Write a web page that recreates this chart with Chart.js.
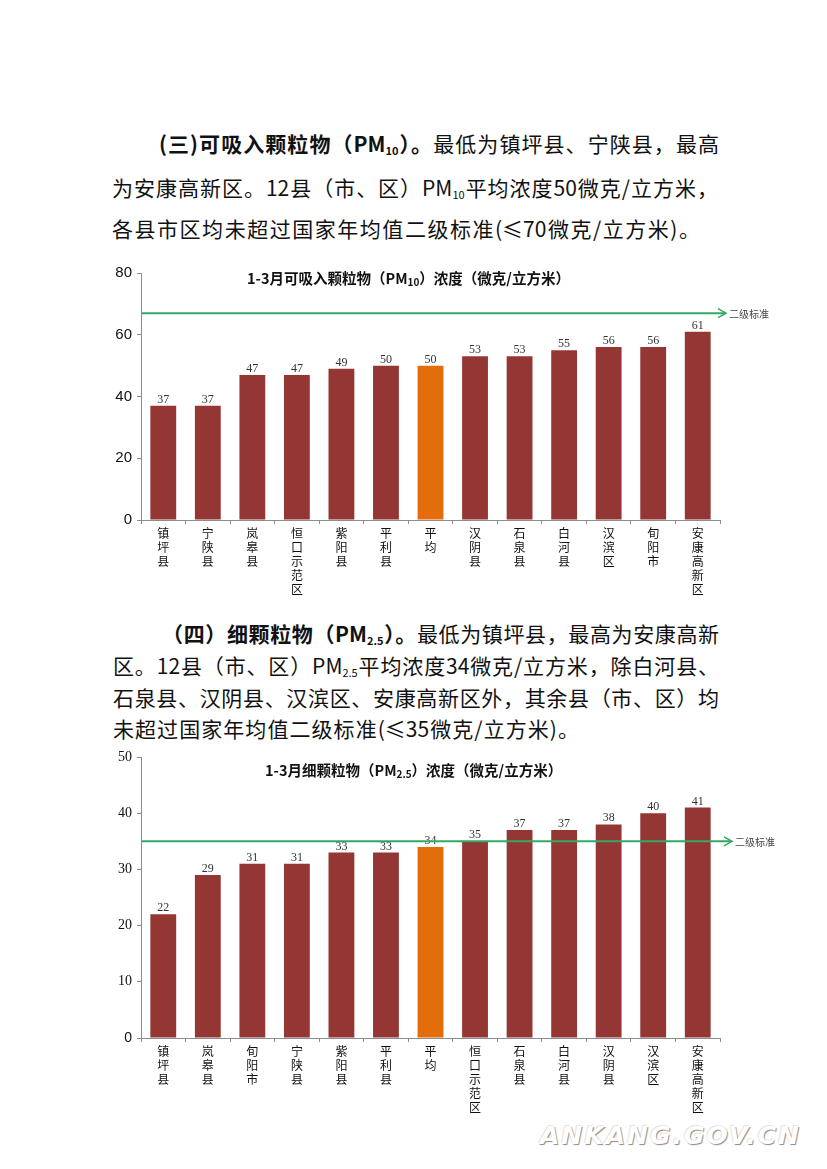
<!DOCTYPE html>
<html>
<head>
<meta charset="utf-8">
<script src="https://cdn.jsdelivr.net/npm/chart.js@4.4.1/dist/chart.umd.min.js"></script>
<style>
body { margin: 0; background: #fff; width: 827px; height: 1169px; position: relative; overflow: hidden; font-family: "Noto Sans CJK SC", sans-serif; color: #111; }
.ln { position: absolute; height: 42px; line-height: 42px; font-size: 21px; text-align: justify; text-align-last: justify; }
.ln b { font-weight: 700; }
sub { font-size: 11px; vertical-align: -3px; line-height: 0; }
.box { position: absolute; }
.wm { position: absolute; left: 540px; top: 1121px; font: italic bold 25px "DejaVu Sans", sans-serif; letter-spacing: 2px; color: #fff; text-shadow: 1px 1px 1px #8a8a8a, -1px -1px 0 #e6e6e6; }
</style>
</head>
<body>

<div class="ln" style="left:159px; top:122px; width:560px;"><b>(三)可吸入颗粒物（PM<sub>10</sub>）。</b>最低为镇坪县、宁陕县，最高</div>
<div class="ln" style="left:112px; top:166px; width:606px;">为安康高新区。12县（市、区）PM<sub>10</sub>平均浓度50微克/立方米，</div>
<div class="ln" style="left:112px; top:207px; width:588px;">各县市区均未超过国家年均值二级标准(≤70微克/立方米)。</div>

<div class="box" style="left:90px; top:258px;"><canvas id="chart1" width="700" height="344"></canvas></div>

<div class="ln" style="left:162px; top:612px; width:557px;"><b>（四）细颗粒物（PM<sub>2.5</sub>）。</b>最低为镇坪县，最高为安康高新</div>
<div class="ln" style="left:113px; top:644px; width:606px;">区。12县（市、区）PM<sub>2.5</sub>平均浓度34微克/立方米，除白河县、</div>
<div class="ln" style="left:113px; top:676px; width:606px;">石泉县、汉阴县、汉滨区、安康高新区外，其余县（市、区）均</div>
<div class="ln" style="left:113px; top:707px; width:466px;">未超过国家年均值二级标准(≤35微克/立方米)。</div>

<div class="box" style="left:90px; top:742px;"><canvas id="chart2" width="700" height="378"></canvas></div>

<div class="wm">ANKANG.GOV.CN</div>

<script>
// PM10, Jan-Mar, ascending
const cats1 = ['镇坪县', '宁陕县', '岚皋县', '恒口示范区', '紫阳县', '平利县', '平均', '汉阴县', '石泉县', '白河县', '汉滨区', '旬阳市', '安康高新区'];
const pm10 = [37, 37, 47, 47, 49, 50, 50, 53, 53, 55, 56, 56, 61];
const yTicks1 = [0, 20, 40, 60, 80];
const std1 = 67;

// PM2.5, Jan-Mar, ascending
const cats2 = ['镇坪县', '岚皋县', '旬阳市', '宁陕县', '紫阳县', '平利县', '平均', '恒口示范区', '石泉县', '白河县', '汉阴县', '汉滨区', '安康高新区'];
const pm25 = [22, 29, 31, 31, 33, 33, 34, 35, 37, 37, 38, 40, 41];
const yTicks2 = [0, 10, 20, 30, 40, 50];
const std2 = 35;

const stdLabel = '二级标准';
const title1 = [['1-3月可吸入颗粒物（PM', false], ['10', true], ['）浓度（微克/立方米）', false]];
const title2 = [['1-3月细颗粒物（PM', false], ['2.5', true], ['）浓度（微克/立方米）', false]];

const RED = '#943634';
const ORANGE = '#E46C0A';
const GREEN = '#34a863';
const AXIS = '#8c8c8c';

const valueLabels = {
    id: 'valueLabels',
    afterDatasetsDraw(chart) {
        const ctx = chart.ctx;
        const values = chart.data.datasets[0].data;
        ctx.save();
        ctx.font = '12px "Liberation Serif"';
        ctx.fillStyle = '#333';
        ctx.textAlign = 'center';
        ctx.textBaseline = 'alphabetic';
        chart.getDatasetMeta(0).data.forEach((el, i) => {
            ctx.fillText(values[i], el.x, el.y - 3);
        });
        ctx.restore();
    }
};

const stdLine = {
    id: 'stdLine',
    afterDatasetsDraw(chart, args, opts) {
        const ctx = chart.ctx;
        const a = chart.chartArea;
        const py = chart.scales.y.getPixelForValue(opts.value);
        const tip = a.right + opts.ext;
        ctx.save();
        ctx.strokeStyle = GREEN;
        ctx.lineWidth = 2;
        ctx.beginPath();
        ctx.moveTo(a.left + 1, py);
        ctx.lineTo(tip - 1, py);
        ctx.stroke();
        ctx.lineWidth = 1.5;
        ctx.beginPath();
        ctx.moveTo(tip - 8, py - 4.5);
        ctx.lineTo(tip, py);
        ctx.lineTo(tip - 8, py + 4.5);
        ctx.stroke();
        ctx.font = '10px "Noto Sans CJK SC"';
        ctx.fillStyle = '#444';
        ctx.textBaseline = 'middle';
        ctx.fillText(opts.label, tip + 3, py + 1);
        ctx.restore();
    }
};

const chartTitle = {
    id: 'chartTitle',
    afterDraw(chart, args, opts) {
        const ctx = chart.ctx;
        let x = opts.x;
        ctx.save();
        ctx.fillStyle = '#111';
        ctx.textBaseline = 'middle';
        opts.runs.forEach(([text, sub]) => {
            ctx.font = sub ? 'bold 10px "Noto Sans CJK SC"' : 'bold 14.5px "Noto Sans CJK SC"';
            ctx.fillText(text, x, sub ? opts.y + 4 : opts.y);
            x += ctx.measureText(text).width;
        });
        ctx.restore();
    }
};

function makeChart(id, cats, values, ticks, std, ext, runs, titleX, titleY, tickFont) {
    return new Chart(document.getElementById(id), {
        type: 'bar',
        data: {
            labels: cats.map(c => c.split('')),
            datasets: [{
                data: values,
                backgroundColor: cats.map(c => c === '平均' ? ORANGE : RED),
                barPercentage: 0.58,
                categoryPercentage: 1
            }]
        },
        options: {
            responsive: false,
            animation: false,
            events: [],
            layout: { padding: { top: 15, right: 70, left: 0, bottom: 0 } },
            plugins: {
                legend: { display: false },
                tooltip: { enabled: false },
                stdLine: { value: std, label: stdLabel, ext: ext },
                chartTitle: { runs: runs, x: titleX, y: titleY }
            },
            scales: {
                x: {
                    offset: true,
                    grid: { drawOnChartArea: false, tickLength: 4, color: AXIS, offset: true },
                    border: { color: AXIS },
                    ticks: {
                        autoSkip: false,
                        maxRotation: 0,
                        padding: 2,
                        color: '#111',
                        font: { family: 'Noto Sans CJK SC', size: 12, lineHeight: '14px' }
                    },
                    afterFit: s => { s.height = 82; }
                },
                y: {
                    min: ticks[0],
                    max: ticks[ticks.length - 1],
                    grid: { drawOnChartArea: false, tickLength: 4, color: AXIS },
                    border: { color: AXIS },
                    ticks: { padding: 5, color: '#111', font: tickFont },
                    afterBuildTicks: s => { s.ticks = ticks.map(v => ({ value: v })); },
                    afterFit: s => { s.width = 51; }
                }
            }
        },
        plugins: [valueLabels, stdLine, chartTitle]
    });
}

makeChart('chart1', cats1, pm10, yTicks1, std1, 6, title1, 157, 20,
    { family: 'Liberation Sans', size: 15 });

makeChart('chart2', cats2, pm25, yTicks2, std2, 12, title2, 175, 28,
    c => (c.tick && c.tick.value === 0)
        ? { family: 'Liberation Sans', size: 14 }
        : { family: 'Liberation Serif', size: 14 });
</script>
</body>
</html>
